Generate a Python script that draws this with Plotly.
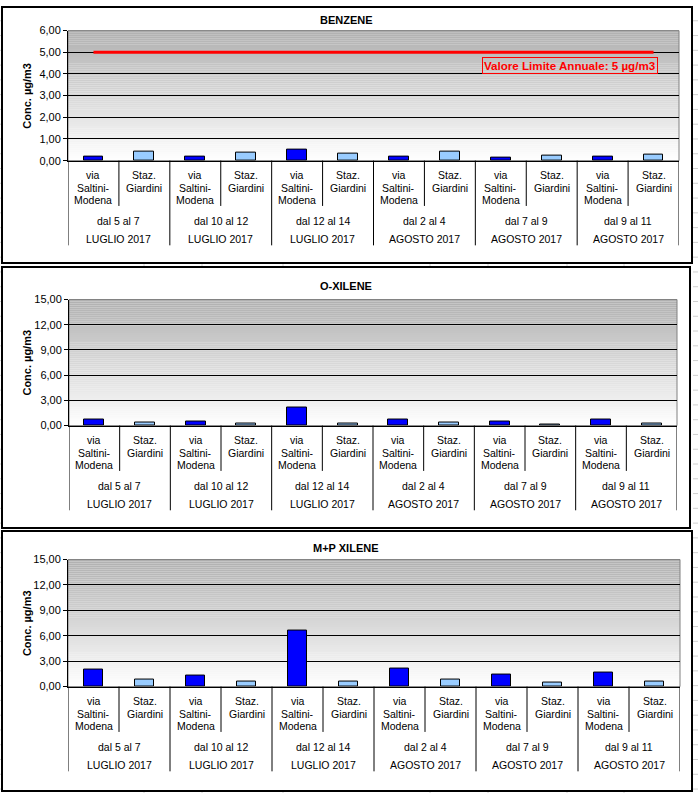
import plotly.graph_objects as go

W, H = 698, 799

# ---------------- data ----------------
PERIODS = ["dal 5 al 7", "dal 10 al 12", "dal 12 al 14", "dal 2 al 4", "dal 7 al 9", "dal 9 al 11"]
MONTHS = ["LUGLIO 2017", "LUGLIO 2017", "LUGLIO 2017", "AGOSTO 2017", "AGOSTO 2017", "AGOSTO 2017"]
SITE_VIA_LINES = ["via", "Saltini-", "Modena"]
SITE_STAZ_LINES = ["Staz.", "Giardini"]

BENZENE_VIA = [0.17, 0.17, 0.50, 0.17, 0.14, 0.18]
BENZENE_STAZ = [0.41, 0.35, 0.32, 0.41, 0.21, 0.30]
BENZENE_LIMIT = [5, 5, 5, 5, 5, 5, 5, 5, 5, 5, 5, 5]

OXILENE_VIA = [0.67, 0.43, 2.10, 0.78, 0.43, 0.67]
OXILENE_STAZ = [0.31, 0.20, 0.20, 0.31, 0.08, 0.20]

MPXILENE_VIA = [2.00, 1.30, 6.67, 2.13, 1.43, 1.66]
MPXILENE_STAZ = [0.85, 0.62, 0.62, 0.85, 0.50, 0.62]

TITLES = ["BENZENE", "O-XILENE", "M+P XILENE"]
Y_TITLE = "Conc. µg/m3"
LIMIT_LABEL = "Valore Limite Annuale: 5 µg/m3"

# ---------------- layout helpers ----------------
def px(p):
    return p / W

def py(p):
    return 1 - p / H

FONT = "Liberation Sans, Arial, sans-serif"

panels = [
    dict(via=BENZENE_VIA, staz=BENZENE_STAZ, ymax=6, dtick=1, x0=68, x1=679, ytop=25, y0=157,
         box=(2, 1, 692, 261), title_y=14),
    dict(via=OXILENE_VIA, staz=OXILENE_STAZ, ymax=15, dtick=3, x0=69, x1=677, ytop=298, y0=426,
         box=(2, 265, 690, 530), title_y=284),
    dict(via=MPXILENE_VIA, staz=MPXILENE_STAZ, ymax=15, dtick=3, x0=68, x1=680, ytop=562, y0=691,
         box=(2, 533, 692, 797), title_y=550),
]

fig = go.Figure()
shapes = []
annotations = []
layout = dict(
    width=W, height=H, margin=dict(l=0, r=0, t=0, b=0),
    paper_bgcolor="white", plot_bgcolor="rgba(0,0,0,0)",
    showlegend=False, separators=",.",
    font=dict(family=FONT, size=11, color="black"),
)

# spreadsheet grid remnants behind the charts
for yy in range(15, H, 15):
    shapes.append(dict(type="line", xref="paper", yref="paper", x0=px(693), x1=px(698),
                       y0=py(yy), y1=py(yy), line=dict(color="#d0d0d0", width=1), layer="below"))
    shapes.append(dict(type="line", xref="paper", yref="paper", x0=px(0), x1=px(1),
                       y0=py(yy), y1=py(yy), line=dict(color="#d0d0d0", width=1), layer="below"))
for xx in [144, 202, 283, 430, 488, 567, 624]:
    shapes.append(dict(type="line", xref="paper", yref="paper", x0=px(xx), x1=px(xx),
                       y0=py(262), y1=py(265), line=dict(color="#d0d0d0", width=1), layer="below"))
    shapes.append(dict(type="line", xref="paper", yref="paper", x0=px(xx), x1=px(xx),
                       y0=py(797), y1=py(799), line=dict(color="#d0d0d0", width=1), layer="below"))

N_STRIPS = 64
for i, p in enumerate(panels):
    n = "" if i == 0 else str(i + 1)
    xa, ya = "x" + n, "y" + n
    xkey, ykey = "xaxis" + n, "yaxis" + n

    layout[xkey] = dict(domain=[px(p["x0"]), px(p["x1"])], range=[-0.5, 11.5], anchor=ya,
                        showticklabels=False, ticks="", showgrid=False, zeroline=False,
                        showline=True, linecolor="black", linewidth=1, fixedrange=True)
    layout[ykey] = dict(domain=[py(p["y0"]), py(p["ytop"])], range=[0, p["ymax"]], anchor=xa,
                        dtick=p["dtick"], tick0=0, tickformat=".2f", ticks="outside", ticklen=4,
                        tickcolor="black", showgrid=True, gridcolor="black", gridwidth=1,
                        zeroline=False, showline=True, linecolor="black", linewidth=1,
                        tickfont=dict(family=FONT, size=11, color="black"), fixedrange=True)

    # panel frame
    bx0, by0, bx1, by1 = p["box"]
    shapes.append(dict(type="rect", xref="paper", yref="paper", x0=px(bx0), x1=px(bx1),
                       y0=py(by1), y1=py(by0), line=dict(color="black", width=2),
                       fillcolor="white", layer="below"))

    # gradient plot background
    for k in range(N_STRIPS):
        t = (k + 0.5) / N_STRIPS
        c = int(round(255 - (255 - 176) * t))
        shapes.append(dict(type="rect", xref=xa + " domain", yref=ya + " domain",
                           x0=0, x1=1, y0=k / N_STRIPS, y1=(k + 1) / N_STRIPS,
                           fillcolor=f"rgb({c},{c},{c})", line=dict(width=0), layer="below"))
    shapes.append(dict(type="rect", xref=xa + " domain", yref=ya + " domain",
                       x0=0, x1=1, y0=0, y1=1, line=dict(color="#808080", width=1),
                       fillcolor="rgba(0,0,0,0)", layer="below"))

    # bars
    via_x = [2 * g for g in range(len(p["via"]))]
    staz_x = [2 * g + 1 for g in range(len(p["staz"]))]
    fig.add_trace(go.Bar(x=via_x, y=p["via"], width=0.39, xaxis=xa, yaxis=ya,
                         marker=dict(color="#0000FF", line=dict(color="black", width=1)),
                         hoverinfo="y"))
    fig.add_trace(go.Bar(x=staz_x, y=p["staz"], width=0.39, xaxis=xa, yaxis=ya,
                         marker=dict(color="#99CCFF", line=dict(color="black", width=1)),
                         hoverinfo="y"))

    # title
    annotations.append(dict(xref="paper", yref="paper", x=px(346), y=py(p["title_y"]),
                            text="<b>" + TITLES[i] + "</b>", showarrow=False,
                            font=dict(family=FONT, size=11, color="black"),
                            xanchor="center", yanchor="middle"))
    # y title
    annotations.append(dict(xref="paper", yref="paper", x=px(27), y=py((p["ytop"] + p["y0"]) / 2),
                            text="<b>" + Y_TITLE + "</b>", showarrow=False, textangle=-90,
                            font=dict(family=FONT, size=11, color="black"),
                            xanchor="center", yanchor="middle"))

    # category labels and dividers
    y0 = p["y0"]
    offs3 = [15, 27.5, 40]
    for g in range(6):
        for j, line in enumerate(SITE_VIA_LINES):
            annotations.append(dict(xref=xa, yref="paper", x=2 * g, y=py(y0 + offs3[j]),
                                    text=line, showarrow=False, xanchor="center", yanchor="middle",
                                    font=dict(family=FONT, size=10.5, color="black")))
        for j, line in enumerate(SITE_STAZ_LINES):
            annotations.append(dict(xref=xa, yref="paper", x=2 * g + 1, y=py(y0 + offs3[j]),
                                    text=line, showarrow=False, xanchor="center", yanchor="middle",
                                    font=dict(family=FONT, size=10.5, color="black")))
        annotations.append(dict(xref=xa, yref="paper", x=2 * g + 0.5, y=py(y0 + 61),
                                text=PERIODS[g], showarrow=False, xanchor="center", yanchor="middle",
                                font=dict(family=FONT, size=10.5, color="black")))
        annotations.append(dict(xref=xa, yref="paper", x=2 * g + 0.5, y=py(y0 + 80),
                                text=MONTHS[g], showarrow=False, xanchor="center", yanchor="middle",
                                font=dict(family=FONT, size=10.5, color="black")))
        shapes.append(dict(type="line", xref=xa, yref="paper", x0=2 * g + 0.5, x1=2 * g + 0.5,
                           y0=py(y0), y1=py(y0 + 46), line=dict(color="black", width=1)))
    for g in range(7):
        shapes.append(dict(type="line", xref=xa, yref="paper", x0=2 * g - 0.5, x1=2 * g - 0.5,
                           y0=py(y0), y1=py(y0 + 86), line=dict(color="black", width=1)))

# limit line on benzene chart
fig.add_trace(go.Scatter(x=list(range(len(BENZENE_LIMIT))), y=BENZENE_LIMIT, mode="lines",
                         xaxis="x", yaxis="y", line=dict(color="#FF0000", width=3),
                         hoverinfo="y"))
annotations.append(dict(xref="paper", yref="paper", x=px(569.5), y=py(60.5),
                        text="<b>" + LIMIT_LABEL + "</b>", showarrow=False,
                        font=dict(family=FONT, size=11.6, color="#FF0000"),
                        bordercolor="#FF0000", borderwidth=1, borderpad=1,
                        xanchor="center", yanchor="middle"))

layout["shapes"] = shapes
layout["annotations"] = annotations
layout["bargap"] = 0
fig.update_layout(**layout)
fig.write_html("out.html")
